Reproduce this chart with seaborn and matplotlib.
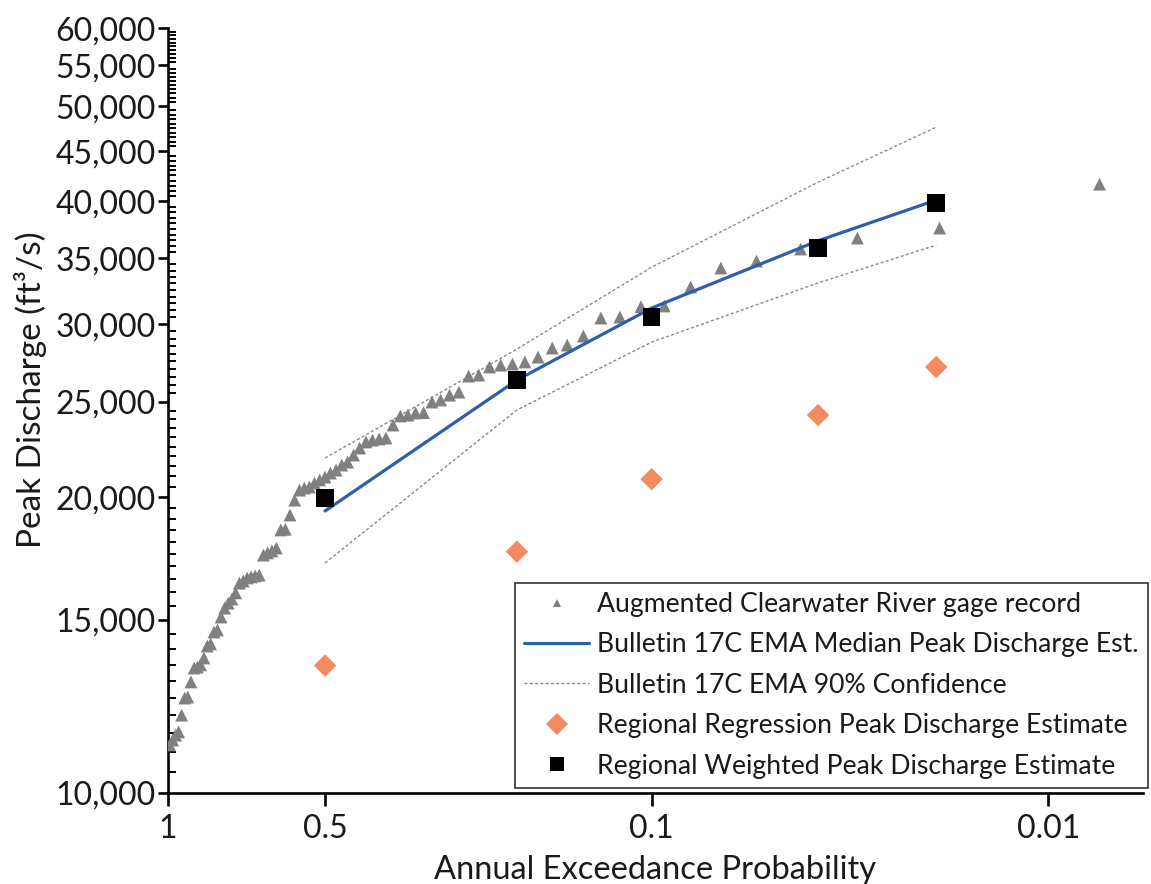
import numpy as np
import pandas as pd
import matplotlib
matplotlib.use("Agg")
import matplotlib.pyplot as plt
import matplotlib.ticker as mticker
from matplotlib.lines import Line2D
import seaborn as sns

# ---------------- data ----------------
gage_aep = [0.0072,
            0.0196, 0.0319, 0.0442, 0.0566, 0.0689, 0.0812, 0.0935, 0.1058, 0.1182, 0.1305,
            0.1428, 0.1551, 0.1674, 0.1798, 0.1921, 0.2044, 0.2167, 0.2290, 0.2414, 0.2537,
            0.2660, 0.2783, 0.2906, 0.3030, 0.3153, 0.3276, 0.3399, 0.3522, 0.3646, 0.3769,
            0.3892, 0.4015, 0.4138, 0.4262, 0.4385, 0.4508, 0.4631, 0.4754, 0.4878, 0.5001,
            0.5124, 0.5247, 0.5370, 0.5494, 0.5617, 0.5740, 0.5863, 0.5986, 0.6110, 0.6233,
            0.6356, 0.6479, 0.6602, 0.6726, 0.6849, 0.6972, 0.7095, 0.7218, 0.7342, 0.7465,
            0.7588, 0.7711, 0.7834, 0.7958, 0.8081, 0.8204, 0.8327, 0.8450, 0.8574, 0.8697,
            0.8820, 0.8943, 0.9066, 0.9190, 0.9313, 0.9436, 0.9559, 0.9682, 0.9806, 0.9929]
gage_q = [41640,
          37570, 36700, 35770, 34780, 34210, 32720, 31300, 31250, 30500, 30430,
          29170, 28560, 28360, 27770, 27450, 27320, 27250, 27130, 26620, 26560,
          25580, 25400, 25110, 24990, 24380, 24360, 24240, 24190, 23680, 22970,
          22920, 22860, 22760, 22440, 22070, 21710, 21560, 21310, 21160, 20960,
          20820, 20670, 20480, 20430, 20330, 19860, 19180, 18550, 18520, 17750,
          17630, 17550, 17460, 16660, 16630, 16590, 16550, 16430, 16350, 15980,
          15750, 15600, 15420, 15100, 14650, 14580, 14180, 14110, 13720, 13500,
          13430, 13400, 12970, 12520, 12490, 12000, 11540, 11450, 11320, 11190]

est_aep = [0.5, 0.2, 0.1, 0.04, 0.02]
median_q = [19360, 26310, 31150, 36470, 40120]
ci_lower_q = [17140, 24530, 28760, 33040, 36100]
ci_upper_q = [21920, 28290, 34280, 41840, 47590]
regression_q = [13480, 17600, 20860, 24240, 27130]
weighted_q = [19960, 26310, 30520, 35840, 39830]

x_ticks = [1, 0.5, 0.1, 0.01]
x_tick_labels = ["1", "0.5", "0.1", "0.01"]
y_ticks = list(range(10000, 60001, 5000))

labels = ["Augmented Clearwater River gage record",
          "Bulletin 17C EMA Median Peak Discharge Est.",
          "Bulletin 17C EMA 90% Confidence",
          "Regional Regression Peak Discharge Estimate",
          "Regional Weighted Peak Discharge Estimate"]

# ---------------- style ----------------
sns.set_theme(style="white")
plt.rcParams["font.family"] = ["Lato", "DejaVu Sans"]
plt.rcParams["axes.linewidth"] = 1.9

GRAY = "#808080"
BLUE = "#2d5fab"
ORANGE = "#f48a60"
CI_GRAY = "#8a8a8a"
TXT = "#1a1a1a"

fig = plt.figure(figsize=(11.51, 8.84), dpi=100)
ax = fig.add_axes([0.146, 0.103, 0.847, 0.865])

gage_df = pd.DataFrame({"aep": gage_aep, "q": gage_q})
est_df = pd.DataFrame({"aep": est_aep, "median": median_q, "lower": ci_lower_q,
                       "upper": ci_upper_q, "regression": regression_q,
                       "weighted": weighted_q})

C = 9.44


def fwd(p):
    p = np.clip(np.asarray(p, dtype=float), 1e-12, 1e6)
    return np.log(np.clip(C - np.log(p), 1e-9, None))


def inv(x):
    return np.exp(C - np.exp(np.asarray(x, dtype=float)))


ax.set_xscale("function", functions=(fwd, inv))
ax.set_yscale("log")

sns.lineplot(data=est_df, x="aep", y="lower", ax=ax, color=CI_GRAY, lw=1.0,
             linestyle=(0, (2.2, 1.6)), sort=False, errorbar=None, zorder=2)
sns.lineplot(data=est_df, x="aep", y="upper", ax=ax, color=CI_GRAY, lw=1.0,
             linestyle=(0, (2.2, 1.6)), sort=False, errorbar=None, zorder=2)
sns.scatterplot(data=gage_df, x="aep", y="q", ax=ax, marker="^", s=85,
                color=GRAY, edgecolor="none", linewidth=0, zorder=3)
sns.lineplot(data=est_df, x="aep", y="median", ax=ax, color=BLUE, lw=2.3,
             sort=False, errorbar=None, zorder=4)
sns.scatterplot(data=est_df, x="aep", y="regression", ax=ax, marker="D", s=130,
                color=ORANGE, edgecolor="none", linewidth=0, zorder=5)
sns.scatterplot(data=est_df, x="aep", y="weighted", ax=ax, marker="s", s=160,
                color="black", edgecolor="none", linewidth=0, zorder=6)

ax.set_xlim(1, 0.00542)
ax.set_ylim(10000, 60000)
# make sure AEP = 1 sits at the left edge
if ax.transData.transform((1, 20000))[0] > ax.transData.transform((0.01, 20000))[0]:
    ax.invert_xaxis()

ax.xaxis.set_major_locator(mticker.FixedLocator(x_ticks))
ax.xaxis.set_major_formatter(mticker.FixedFormatter(x_tick_labels))
ax.xaxis.set_minor_locator(mticker.NullLocator())

ax.yaxis.set_major_locator(mticker.FixedLocator(y_ticks))
ax.yaxis.set_major_formatter(mticker.FuncFormatter(lambda v, _: f"{v:,.0f}"))
minor = [v for v in range(10000, 60001, 500) if v % 5000 != 0]
ax.yaxis.set_minor_locator(mticker.FixedLocator(minor))
ax.yaxis.set_minor_formatter(mticker.NullFormatter())

for s in ["top", "right"]:
    ax.spines[s].set_visible(False)
for s in ["left", "bottom"]:
    ax.spines[s].set_color("black")

ax.tick_params(axis="x", which="major", direction="out", length=9, width=1.9,
               color="black", labelsize=23, pad=6, labelcolor=TXT)
ax.tick_params(axis="y", which="major", direction="out", length=7, width=1.9,
               color="black", labelsize=23, pad=2, labelcolor=TXT)
ax.tick_params(axis="y", which="minor", direction="in", length=5.5, width=1.4,
               color="black", left=True)
ax.tick_params(left=True, bottom=True)

ax.set_xlabel("Annual Exceedance Probability", fontsize=23.5, color=TXT)
ax.set_ylabel("Peak Discharge (ft³/s)", fontsize=24, color=TXT)
ax.xaxis.set_label_coords(0.5, -0.081)
ax.yaxis.set_label_coords(-0.124, 0.527)

handles = [
    Line2D([], [], marker="^", color=GRAY, linestyle="none", markersize=6,
           markeredgewidth=0),
    Line2D([], [], color=BLUE, lw=2.3),
    Line2D([], [], color="#7d86a8", lw=1.0, linestyle=(0, (2.2, 1.6))),
    Line2D([], [], marker="D", color=ORANGE, linestyle="none", markersize=11,
           markeredgewidth=0),
    Line2D([], [], marker="s", color="black", linestyle="none", markersize=9.5,
           markeredgewidth=0),
]
leg = ax.legend(handles, labels, loc="upper left", bbox_to_anchor=(0.356, 0.2745),
                borderaxespad=0, frameon=True, fancybox=False, framealpha=1,
                edgecolor="#333333", fontsize=19.2, handlelength=2.45,
                handletextpad=0.3, labelspacing=0.58, borderpad=0.33)
leg.get_frame().set_linewidth(1.2)
for t in leg.get_texts():
    t.set_color(TXT)

fig.savefig("out.png", dpi=100)
